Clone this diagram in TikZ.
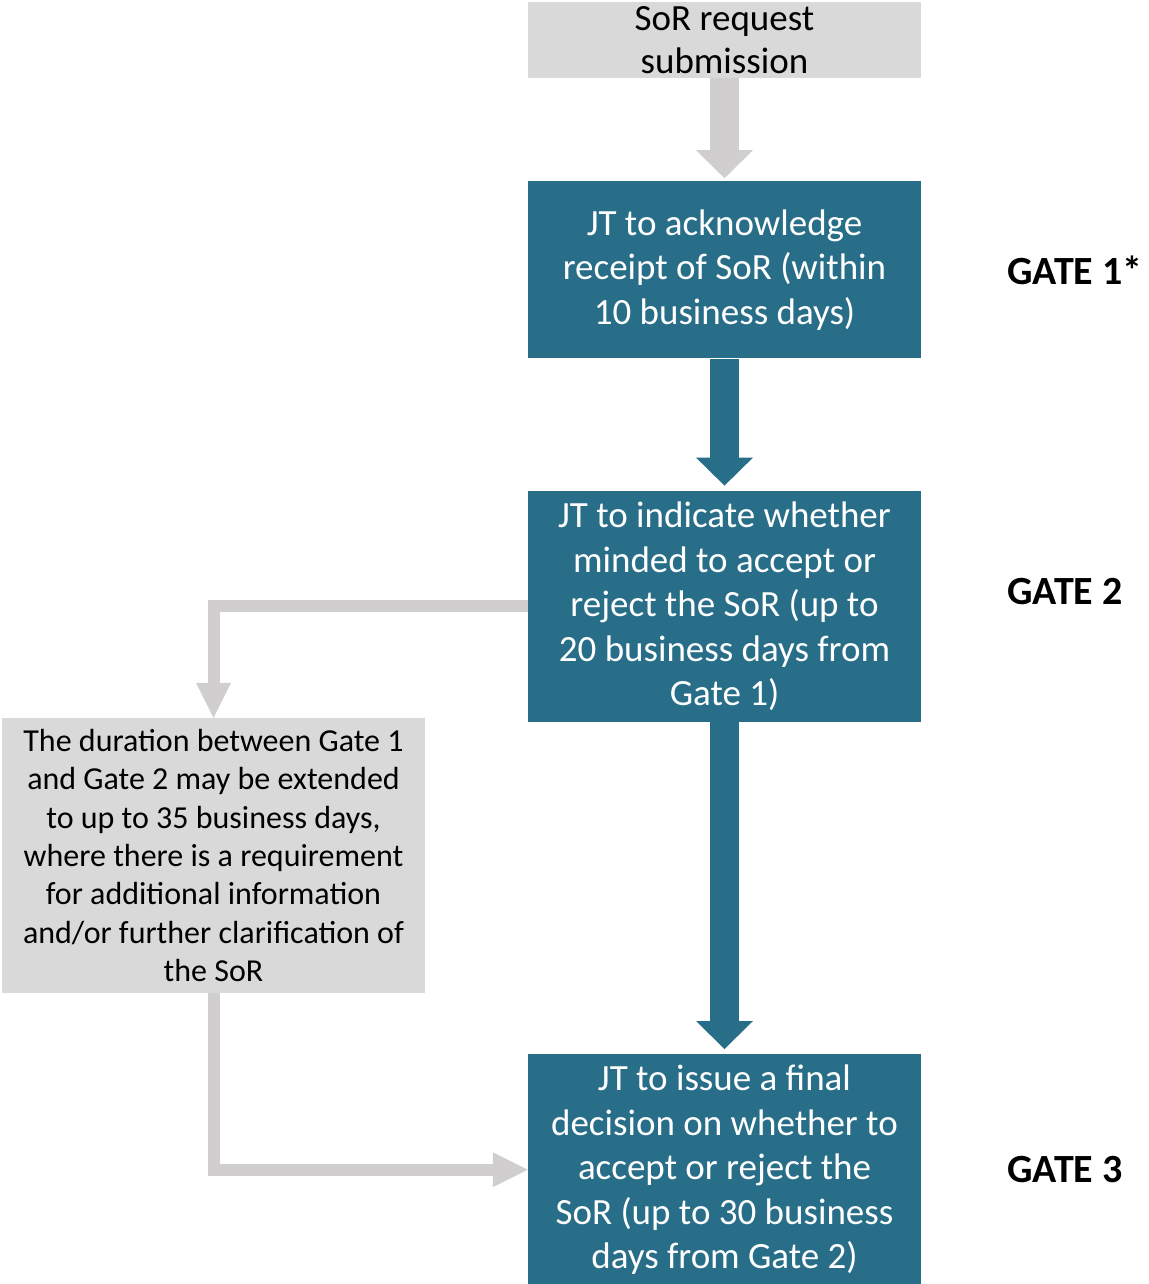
\documentclass[tikz,border=0pt]{standalone}
\usepackage{fontspec}
\setmainfont{Carlito}
\usetikzlibrary{arrows.meta, positioning}
\definecolor{GateBlue}{HTML}{286E89}
\definecolor{BoxGray}{HTML}{D9D9D9}
\definecolor{ArrowGray}{HTML}{D0CECE}

\begin{document}
\begin{tikzpicture}[
    x=1pt, y=-1pt,
    box/.style={rectangle, fill=GateBlue, text=white, minimum width=393pt, minimum height=231pt, inner sep=0pt, align=center, font=\fontsize{37}{44.5}\selectfont},
    graybox/.style={rectangle, fill=BoxGray, inner sep=0pt, align=center},
    gatetext/.style={font=\bfseries\fontsize{40}{48}\selectfont, inner sep=0pt},
    arrow/.style={line width=29pt, -{Triangle[width=57pt, length=28pt, line width=0pt]}},
    sidearrow/.style={line width=12pt, color=ArrowGray, -{Triangle[width=35pt, length=35pt, line width=0pt]}}
]
\useasboundingbox (0,0) rectangle (1148,1284);

\node[graybox, minimum width=393pt, minimum height=76pt, font=\fontsize{37}{43}\selectfont] (sor) at (724.5,40) {SoR request\\submission};
\node[box, minimum height=177pt, below=103pt of sor] (g1) {JT to acknowledge\\receipt of SoR (within\\10 business days)};
\node[box, below=132pt of g1] (g2) {JT to indicate whether\\minded to accept or\\reject the SoR (up to\\20 business days from\\Gate 1)};
\node[box, below=332pt of g2] (g3) {JT to issue a final\\decision on whether to\\accept or reject the\\SoR (up to 30 business\\days from Gate 2)};

\node[graybox, minimum width=423pt, minimum height=275pt, font=\fontsize{32}{38.3}\selectfont] (ext) at (213.5,855.5) {The duration between Gate 1\\and Gate 2 may be extended\\to up to 35 business days,\\where there is a requirement\\for additional information\\and/or further clarification of\\the SoR};

\node[gatetext, right=86pt of g1] (lab1) {GATE 1*};
\node[gatetext, right=86pt of g2, yshift=15pt] (lab2) {GATE 2};
\node[gatetext, right=86pt of g3] (lab3) {GATE 3};

\draw[arrow, color=ArrowGray, shorten >=3pt] (sor) -- (g1);
\draw[arrow, color=GateBlue, shorten >=5pt] (g1) -- (g2);
\draw[arrow, color=GateBlue, shorten >=5pt] (g2) -- (g3);
\draw[sidearrow] (g2.west) -| (ext.north);
\draw[sidearrow] (ext.south) |- (g3.west);

\end{tikzpicture}
\end{document}
